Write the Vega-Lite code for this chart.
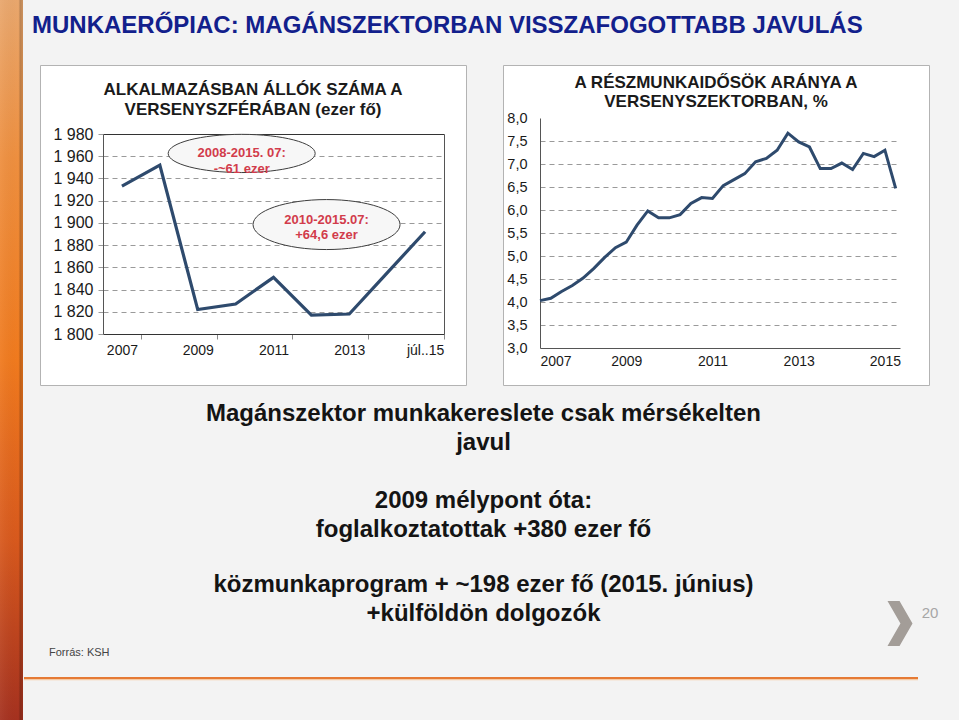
{
  "$schema": "https://vega.github.io/schema/vega-lite/v6.json",
  "background": "#f3f3f3",
  "padding": 0,
  "datasets": {
    "employment": [
      {"period": "2007", "value": 1933},
      {"period": "2008", "value": 1952},
      {"period": "2009", "value": 1822},
      {"period": "2010", "value": 1827},
      {"period": "2011", "value": 1851},
      {"period": "2012", "value": 1817},
      {"period": "2013", "value": 1818},
      {"period": "2014", "value": 1855},
      {"period": "júl..15", "value": 1892}
    ],
    "parttime": [
      {"year": 2007.00, "share": 4.03},
      {"year": 2007.25, "share": 4.08},
      {"year": 2007.50, "share": 4.23},
      {"year": 2007.75, "share": 4.36},
      {"year": 2008.00, "share": 4.52},
      {"year": 2008.25, "share": 4.73},
      {"year": 2008.50, "share": 4.97},
      {"year": 2008.75, "share": 5.18},
      {"year": 2009.00, "share": 5.30},
      {"year": 2009.25, "share": 5.67},
      {"year": 2009.50, "share": 5.98},
      {"year": 2009.75, "share": 5.83},
      {"year": 2010.00, "share": 5.83},
      {"year": 2010.25, "share": 5.90},
      {"year": 2010.50, "share": 6.14},
      {"year": 2010.75, "share": 6.27},
      {"year": 2011.00, "share": 6.25},
      {"year": 2011.25, "share": 6.53},
      {"year": 2011.50, "share": 6.66},
      {"year": 2011.75, "share": 6.79},
      {"year": 2012.00, "share": 7.05},
      {"year": 2012.25, "share": 7.12},
      {"year": 2012.50, "share": 7.30},
      {"year": 2012.75, "share": 7.67},
      {"year": 2013.00, "share": 7.48},
      {"year": 2013.25, "share": 7.37},
      {"year": 2013.50, "share": 6.90},
      {"year": 2013.75, "share": 6.90},
      {"year": 2014.00, "share": 7.02},
      {"year": 2014.25, "share": 6.88},
      {"year": 2014.50, "share": 7.23},
      {"year": 2014.75, "share": 7.16},
      {"year": 2015.00, "share": 7.30},
      {"year": 2015.25, "share": 6.47}
    ],
    "bodytext": [
      {"part": "demand", "lines": ["Magánszektor munkakereslete csak mérsékelten", "javul"]},
      {"part": "employed", "lines": ["2009 mélypont óta:", "foglalkoztatottak +380 ezer fő"]},
      {"part": "public", "lines": ["közmunkaprogram + ~198 ezer fő (2015. június)", "+külföldön dolgozók"]}
    ]
  },
  "config": {
    "view": {"stroke": null},
    "font": "Liberation Sans",
    "axis": {"labelFont": "Liberation Sans", "labelColor": "#1a1a1a", "titleFont": "Liberation Sans"},
    "title": {"font": "Liberation Sans"},
    "text": {"font": "Liberation Sans"}
  },
  "spacing": 0,
  "hconcat": [
    {
      "width": 23,
      "height": 720,
      "data": {"values": [{"panel": "sidebar"}]},
      "layer": [
        {
          "mark": {
            "type": "rect",
            "color": {
              "gradient": "linear", "x1": 0, "y1": 0, "x2": 0, "y2": 1,
              "stops": [
                {"offset": 0, "color": "#e9a76d"},
                {"offset": 0.22, "color": "#ee8f3f"},
                {"offset": 0.5, "color": "#f07a1e"},
                {"offset": 0.75, "color": "#d8591d"},
                {"offset": 1, "color": "#a5311f"}
              ]
            }
          },
          "encoding": {}
        },
        {
          "mark": {
            "type": "rect",
            "color": {
              "gradient": "linear", "x1": 0, "y1": 0, "x2": 1, "y2": 0,
              "stops": [
                {"offset": 0, "color": "rgba(255,255,255,0.06)"},
                {"offset": 0.8, "color": "rgba(0,0,0,0)"},
                {"offset": 0.88, "color": "rgba(0,0,0,0.2)"},
                {"offset": 1, "color": "rgba(0,0,0,0.12)"}
              ]
            }
          },
          "encoding": {}
        }
      ]
    },
    {
      "spacing": 0,
      "vconcat": [
        {
          "width": 935,
          "height": 64,
          "data": {"values": [{"heading": "MUNKAERŐPIAC: MAGÁNSZEKTORBAN VISSZAFOGOTTABB JAVULÁS"}]},
          "mark": {"type": "text", "align": "left", "baseline": "alphabetic", "fontWeight": "bold", "fontSize": 24, "color": "#12208c"},
          "encoding": {
            "text": {"field": "heading"},
            "x": {"datum": 8, "type": "quantitative", "scale": {"domain": [0, 935], "nice": false, "zero": false}, "axis": null},
            "y": {"datum": 33, "type": "quantitative", "scale": {"domain": [0, 64], "reverse": true, "nice": false, "zero": false}, "axis": null}
          }
        },
        {
          "spacing": 0,
          "hconcat": [
            {
              "width": 15,
              "height": 320,
              "data": {"values": []},
              "mark": {"type": "rule"},
              "encoding": {}
            },
            {
              "spacing": 35,
              "hconcat": [
                {
                  "width": 426,
                  "height": 320,
                  "view": {"fill": "#ffffff", "stroke": "#b3b3b3", "strokeWidth": 1},
                  "title": {
                    "text": ["ALKALMAZÁSBAN ÁLLÓK SZÁMA A", "VERSENYSZFÉRÁBAN (ezer fő)"],
                    "anchor": "middle",
                    "frame": "group",
                    "offset": -53.5,
                    "fontSize": 17,
                    "fontWeight": "bold",
                    "lineHeight": 20,
                    "color": "#1a1a1a"
                  },
                  "layer": [
                    {
                      "data": {"name": "employment"},
                      "mark": {"type": "line", "color": "#2e4a6d", "strokeWidth": 3.2, "strokeJoin": "miter"},
                      "encoding": {
                        "x": {
                          "field": "period", "type": "ordinal", "sort": null,
                          "scale": {"type": "band", "paddingInner": 0, "paddingOuter": 0, "range": [63, 404]},
                          "axis": {
                            "title": null, "orient": "bottom", "offset": -51, "labelAngle": 0,
                            "tickBand": "extent", "tickSize": 5, "tickColor": "#8a8a8a",
                            "tickOpacity": {"condition": {"test": "indexof(['2007','2009','2011','2013','júl..15'], datum.value) >= 0", "value": 1}, "value": 0},
                            "labelExpr": "indexof(['2007','2009','2011','2013','júl..15'], datum.value) >= 0 ? datum.value : ''",
                            "labelFontSize": 14, "labelPadding": 4, "domainColor": "#333333", "grid": false
                          }
                        },
                        "y": {
                          "field": "value", "type": "quantitative",
                          "scale": {"domain": [1800, 1980], "range": [269, 69], "nice": false, "zero": false},
                          "axis": {
                            "title": null, "orient": "left", "offset": -63,
                            "values": [1800, 1820, 1840, 1860, 1880, 1900, 1920, 1940, 1960, 1980],
                            "labelExpr": "replace(format(datum.value, ','), ',', ' ')",
                            "labelFontSize": 16, "labelPadding": 5,
                            "tickSize": 5, "tickColor": "#9a9a9a",
                            "grid": true, "gridDash": [5, 4], "gridColor": "#9a9a9a",
                            "domainColor": "#555555"
                          }
                        }
                      }
                    },
                    {
                      "data": {"name": "employment"},
                      "mark": {"type": "line", "opacity": 0},
                      "encoding": {
                        "x": {
                          "field": "period", "type": "ordinal", "sort": null,
                          "axis": {"title": null, "orient": "top", "offset": -69, "labels": false, "ticks": false, "grid": false, "domainColor": "#333333"}
                        },
                        "y": {
                          "field": "value", "type": "quantitative",
                          "axis": {"title": null, "orient": "right", "offset": -22, "labels": false, "ticks": false, "grid": false, "domainColor": "#555555"}
                        }
                      }
                    },
                    {
                      "data": {"values": [{"note": ["2008-2015. 07:", "-~61 ezer"]}]},
                      "encoding": {
                        "x": {"datum": "2010", "bandPosition": 0.66, "axis": null},
                        "y": {"datum": 1962.5, "type": "quantitative", "axis": null}
                      },
                      "layer": [
                        {
                          "mark": {"type": "point", "shape": "M -1 0 A 1 0.26 0 1 0 1 0 A 1 0.26 0 1 0 -1 0 Z", "size": 21609, "filled": true, "fill": "#f7f7f7", "stroke": "#3d3d3d", "strokeWidth": 1, "opacity": 1}
                        },
                        {
                          "mark": {"type": "text", "color": "#d23c4b", "fontWeight": "bold", "fontSize": 13, "lineHeight": 15.5, "baseline": "middle", "align": "center"},
                          "encoding": {"text": {"field": "note"}}
                        }
                      ]
                    },
                    {
                      "data": {"values": [{"note": ["2010-2015.07:", "+64,6 ezer"]}]},
                      "encoding": {
                        "x": {"datum": "2012", "bandPosition": 0.9, "axis": null},
                        "y": {"datum": 1898.5, "type": "quantitative", "axis": null}
                      },
                      "layer": [
                        {
                          "mark": {"type": "point", "shape": "M -1 0 A 1 0.34 0 1 0 1 0 A 1 0.34 0 1 0 -1 0 Z", "size": 21609, "filled": true, "fill": "#f7f7f7", "stroke": "#3d3d3d", "strokeWidth": 1, "opacity": 1}
                        },
                        {
                          "mark": {"type": "text", "color": "#d23c4b", "fontWeight": "bold", "fontSize": 13, "lineHeight": 15.5, "baseline": "middle", "align": "center", "dy": -5},
                          "encoding": {"text": {"field": "note"}}
                        }
                      ]
                    }
                  ],
                  "resolve": {"axis": {"x": "independent", "y": "independent"}}
                },
                {
                  "width": 426,
                  "height": 320,
                  "view": {"fill": "#ffffff", "stroke": "#b3b3b3", "strokeWidth": 1},
                  "title": {
                    "text": ["A RÉSZMUNKAIDŐSÖK ARÁNYA A", "VERSENYSZEKTORBAN, %"],
                    "anchor": "middle",
                    "frame": "group",
                    "offset": -46,
                    "fontSize": 17,
                    "fontWeight": "bold",
                    "lineHeight": 19,
                    "color": "#1a1a1a"
                  },
                  "data": {"name": "parttime"},
                  "mark": {"type": "line", "color": "#2e4a6d", "strokeWidth": 3, "strokeJoin": "miter"},
                  "encoding": {
                    "x": {
                      "field": "year", "type": "quantitative",
                      "scale": {"domain": [2007, 2015.35], "range": [37, 397], "nice": false, "zero": false},
                      "axis": {
                        "title": null, "offset": -37,
                        "values": [2007, 2008, 2009, 2010, 2011, 2012, 2013, 2014, 2015],
                        "format": "d", "ticks": false, "grid": false,
                        "labelFontSize": 14, "labelPadding": 6, "domainColor": "#555555"
                      }
                    },
                    "y": {
                      "field": "share", "type": "quantitative",
                      "scale": {"domain": [3, 8], "range": [283, 53], "nice": false, "zero": false},
                      "axis": {
                        "title": null, "offset": -37,
                        "values": [3, 3.5, 4, 4.5, 5, 5.5, 6, 6.5, 7, 7.5, 8],
                        "labelExpr": "replace(format(datum.value, '.1f'), '.', ',')",
                        "ticks": false, "labelFontSize": 14.5, "labelPadding": 13,
                        "grid": true, "gridDash": [5, 4], "gridColor": "#9a9a9a",
                        "gridOpacity": {"condition": {"test": "datum.value == 8 || datum.value == 3", "value": 0}, "value": 1},
                        "domainColor": "#555555"
                      }
                    }
                  }
                }
              ]
            }
          ]
        },
        {
          "width": 935,
          "height": 336,
          "data": {"name": "bodytext"},
          "encoding": {
            "x": {"datum": 459.5, "type": "quantitative", "scale": {"domain": [0, 935], "nice": false, "zero": false}, "axis": null}
          },
          "layer": [
            {
              "transform": [{"filter": "datum.part == 'demand'"}],
              "mark": {"type": "text", "align": "center", "baseline": "alphabetic", "fontWeight": "bold", "fontSize": 24, "lineHeight": 28.5, "color": "#141414"},
              "encoding": {
                "text": {"field": "lines"},
                "y": {"datum": 35, "type": "quantitative", "scale": {"domain": [0, 336], "reverse": true, "nice": false, "zero": false}, "axis": null}
              }
            },
            {
              "transform": [{"filter": "datum.part == 'employed'"}],
              "mark": {"type": "text", "align": "center", "baseline": "alphabetic", "fontWeight": "bold", "fontSize": 24, "lineHeight": 28.5, "color": "#141414"},
              "encoding": {
                "text": {"field": "lines"},
                "y": {"datum": 122, "type": "quantitative", "axis": null}
              }
            },
            {
              "transform": [{"filter": "datum.part == 'public'"}],
              "mark": {"type": "text", "align": "center", "baseline": "alphabetic", "fontWeight": "bold", "fontSize": 24, "lineHeight": 28.5, "color": "#141414"},
              "encoding": {
                "text": {"field": "lines"},
                "y": {"datum": 206, "type": "quantitative", "axis": null}
              }
            },
            {
              "data": {"values": [{"source": "Forrás: KSH"}]},
              "mark": {"type": "text", "align": "left", "baseline": "middle", "fontSize": 11, "color": "#444444"},
              "encoding": {
                "text": {"field": "source"},
                "x": {"datum": 25, "type": "quantitative", "axis": null},
                "y": {"datum": 267, "type": "quantitative", "axis": null}
              }
            },
            {
              "data": {"values": [{"page": "20"}]},
              "mark": {"type": "text", "align": "center", "baseline": "middle", "fontSize": 15, "color": "#a6a6a6"},
              "encoding": {
                "text": {"field": "page"},
                "x": {"datum": 906, "type": "quantitative", "axis": null},
                "y": {"datum": 226.5, "type": "quantitative", "axis": null}
              }
            },
            {
              "data": {"values": [{"glyph": "chevron"}]},
              "mark": {"type": "point", "shape": "M -0.556 -1 L -0.02 -1 L 0.556 0 L -0.02 1 L -0.556 1 L 0.02 0 Z", "size": 2025, "filled": true, "color": "#a39d98", "opacity": 1},
              "encoding": {
                "x": {"datum": 876, "type": "quantitative", "axis": null},
                "y": {"datum": 237.5, "type": "quantitative", "axis": null}
              }
            },
            {
              "data": {"values": [{"line": "footer"}]},
              "mark": {"type": "rule", "color": "#f6caa4", "strokeWidth": 1.5},
              "encoding": {
                "x": {"datum": 0, "type": "quantitative", "axis": null},
                "x2": {"datum": 894},
                "y": {"datum": 293.5, "type": "quantitative", "axis": null}
              }
            },
            {
              "data": {"values": [{"line": "footer"}]},
              "mark": {"type": "rule", "color": "#e57a34", "strokeWidth": 1.8},
              "encoding": {
                "x": {"datum": 0, "type": "quantitative", "axis": null},
                "x2": {"datum": 894},
                "y": {"datum": 292, "type": "quantitative", "axis": null}
              }
            }
          ]
        }
      ]
    }
  ]
}
